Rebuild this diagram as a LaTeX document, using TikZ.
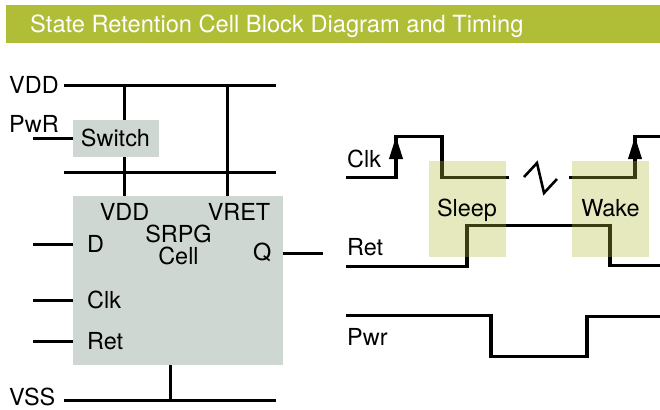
\documentclass[tikz,border=0pt]{standalone}
\usepackage{fontspec}
\setmainfont{TeX Gyre Heros}
\usetikzlibrary{arrows.meta}
\definecolor{titlegreen}{HTML}{AFBD37}
\definecolor{cellgray}{HTML}{CFD7D2}
\tikzset{
    wire/.style={line width=2.6pt, black},
    lbl/.style={inner sep=0pt, font=\fontsize{20}{20}\selectfont},
    blockbox/.style={fill=cellgray, inner sep=0pt},
    phasebox/.style={fill=titlegreen, fill opacity=0.33, inner sep=0pt, minimum width=2.31cm, minimum height=2.88cm},
    edgearrow/.style={wire, -{Triangle[length=0.68cm, width=0.4cm]}}
}
\begin{document}
\begin{tikzpicture}[x=0.03cm, y=-0.03cm]
        \useasboundingbox (0, 0) rectangle (660, 409);

        % Title bar
        \node[fill=titlegreen, inner sep=0pt, minimum width=19.62cm, minimum height=1.14cm] (title) at (333, 24) {};
        \node[lbl, anchor=base west, text=white, font=\fontsize{20.2}{20.2}\selectfont] (titletext) at (30, 32.5) {State Retention Cell Block Diagram and Timing};

        % Blocks
        \node[blockbox, minimum width=2.58cm, minimum height=1.11cm] (switch) at (116, 138.5) {};
        \node[blockbox, minimum width=6.3cm, minimum height=5.07cm] (cell) at (178, 280.5) {};

        % Ends of the rails and of the pins
        \coordinate (vddL) at (64, 85.5);
        \coordinate (vddR) at (276, 85.5);
        \coordinate (retL) at (64, 172.5);
        \coordinate (retR) at (276, 172.5);
        \coordinate (vssL) at (64, 400.5);
        \coordinate (vssR) at (276, 400.5);
        \coordinate (pwrIn) at (33, 138.5);
        \coordinate (dIn) at (33, 244.5);
        \coordinate (clkIn) at (33, 300.5);
        \coordinate (retIn) at (33, 341.5);
        \coordinate (qOut) at (323, 253.5);

        % Rails
        \draw[wire] (vddL) -- (vddR);
        \draw[wire] (retL) -- (retR);
        \draw[wire] (vssL) -- (vssR);

        % Vertical supply lines
        \draw[wire] (124.5, 85.5) -- (switch.north -| 124.5, 85.5);
        \draw[wire] (switch.south -| 124.5, 85.5) -- (cell.north -| 124.5, 85.5);
        \draw[wire] (227.5, 85.5) -- (cell.north -| 227.5, 85.5);
        \draw[wire] (cell.south -| 170.5, 85.5) -- (170.5, 400.5);

        % Pins
        \draw[wire] (pwrIn) -- (switch.west |- pwrIn);
        \draw[wire] (dIn) -- (cell.west |- dIn);
        \draw[wire] (clkIn) -- (cell.west |- clkIn);
        \draw[wire] (retIn) -- (cell.west |- retIn);
        \draw[wire] (cell.east |- qOut) -- (qOut);

        % Left labels
        \node[lbl, anchor=base west] (vddlbl) at (9, 93.5) {VDD};
        \node[lbl, anchor=base west] (pwrlbl) at (9, 132.5) {PwR};
        \node[lbl, anchor=base west] (vsslbl) at (9, 405) {VSS};
        \node[lbl, anchor=base] (switchlbl) at (115.5, 146) {Switch};

        % Labels inside the cell
        \node[lbl, anchor=base] (cellvdd) at (124.5, 220.5) {VDD};
        \node[lbl, anchor=base] (cellvret) at (239, 220.5) {VRET};
        \node[lbl, anchor=base] (srpg) at (178.5, 242.5) {SRPG};
        \node[lbl, anchor=base] (celllbl) at (178.5, 264.5) {Cell};
        \node[lbl, anchor=base west] (dlbl) at (87, 252) {D};
        \node[lbl, anchor=base west] (qlbl) at (253, 260.5) {Q};
        \node[lbl, anchor=base west] (clklbl) at (87, 308.5) {Clk};
        \node[lbl, anchor=base west] (retlbl) at (87, 349) {Ret};

        % Clk waveform with its break
        \coordinate (clkA) at (346, 177.5);
        \coordinate (clkRise) at (396, 177.5);
        \coordinate (clkTop) at (396, 136.5);
        \coordinate (clkB) at (509, 177.5);
        \coordinate (clkC) at (569, 177.5);
        \coordinate (clkRiseB) at (635, 177.5);
        \coordinate (clkTopB) at (635, 136.5);
        \draw[wire] (clkA) -- (clkRise) -- (clkTop) -- (442, 136.5) -- (442, 177.5) -- (clkB);
        \draw[wire] (clkC) -- (clkRiseB) -- (clkTopB) -- (660, 136.5);
        \draw[line width=2.2pt] (524, 177) -- (537, 163) -- (544, 193) -- (557, 179);
        \draw[edgearrow] (clkRise) -- (clkTop);
        \draw[edgearrow] (clkRiseB) -- (clkTopB);

        % Ret and Pwr waveforms
        \draw[wire] (346, 266.5) -- (467, 266.5) -- (467, 225.5) -- (610, 225.5) -- (610, 265.5) -- (660, 265.5);
        \draw[wire] (346, 315.5) -- (491, 315.5) -- (491, 356.5) -- (587, 356.5) -- (587, 316.5) -- (660, 316.5);

        % Sleep and Wake windows
        \node[phasebox] (sleep) at (467.5, 209) {};
        \node[phasebox] (wake) at (610.5, 209) {};
        \node[lbl, anchor=base] (sleeplbl) at (467, 216.5) {Sleep};
        \node[lbl, anchor=base] (wakelbl) at (610.5, 216.5) {Wake};

        % Waveform labels
        \node[lbl, anchor=base west] (clkname) at (347, 167) {Clk};
        \node[lbl, anchor=base west] (retname) at (347, 255) {Ret};
        \node[lbl, anchor=base west] (pwrname) at (347, 345) {Pwr};
\end{tikzpicture}
\end{document}
